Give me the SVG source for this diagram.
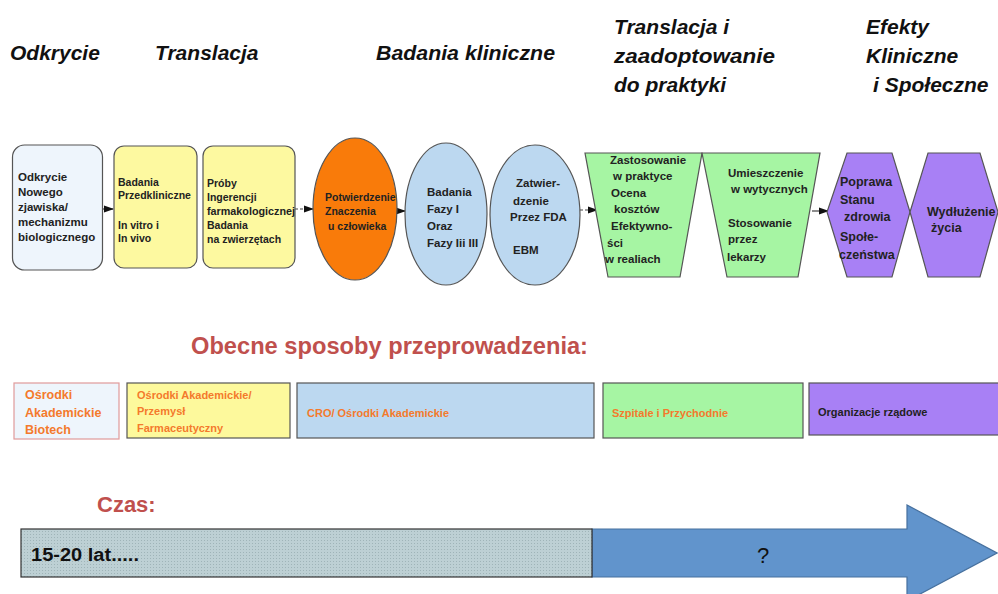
<svg xmlns="http://www.w3.org/2000/svg" width="998" height="594" viewBox="0 0 998 594">
<defs>
<style>
.hdr{font-family:"Liberation Sans",Arial,sans-serif;font-size:21px;font-weight:bold;font-style:italic;fill:#111}
.t{font-family:"Liberation Sans",Arial,sans-serif;fill:#222;font-weight:bold}
.s10{font-size:10.5px}
.s11{font-size:11.5px}
.s12{font-size:12px}
.s125{font-size:12.5px}
.org{font-family:"Liberation Sans",Arial,sans-serif;font-weight:bold;fill:#f47a2c;font-size:11px}
.node{stroke:#555;stroke-width:1.2}
.conn{stroke:#444;stroke-width:1.2;fill:none}
</style>
<marker id="ah" markerWidth="10" markerHeight="8" refX="9" refY="4" orient="auto" markerUnits="userSpaceOnUse">
<path d="M0,0.5 L10,4 L0,7.5 z" fill="#111"/>
</marker>
<pattern id="dots" width="3" height="3" patternUnits="userSpaceOnUse">
<rect width="3" height="3" fill="#bdd0d4"/>
<rect width="1" height="1" fill="#9fb4b8"/>
</pattern>
</defs>
<rect width="998" height="594" fill="#ffffff"/>

<g id="headers">
<text class="hdr" x="10" y="60">Odkrycie</text>
<text class="hdr" x="155" y="60">Translacja</text>
<text class="hdr" x="376" y="60" textLength="179" lengthAdjust="spacingAndGlyphs">Badania kliniczne</text>
<text class="hdr" x="614" y="34">Translacja i</text>
<text class="hdr" x="614" y="63" textLength="161" lengthAdjust="spacingAndGlyphs">zaadoptowanie</text>
<text class="hdr" x="614" y="92">do praktyki</text>
<text class="hdr" x="866" y="34">Efekty</text>
<text class="hdr" x="866" y="63">Kliniczne</text>
<text class="hdr" x="873" y="92">i Społeczne</text>
</g>

<g id="connectors">
<line class="conn" x1="103" y1="209" x2="113" y2="209" marker-end="url(#ah)"/>
<line class="conn" x1="295" y1="209" x2="313" y2="209" stroke-dasharray="3,2" marker-end="url(#ah)"/>
<line class="conn" x1="397" y1="211" x2="405" y2="211" marker-end="url(#ah)"/>
<line class="conn" x1="580" y1="210" x2="597" y2="210" stroke-dasharray="3,2" marker-end="url(#ah)"/>
<line class="conn" x1="812" y1="211" x2="828" y2="211" marker-end="url(#ah)"/>
</g>

<g id="n1">
<rect class="node" x="12.5" y="145" width="90" height="125" rx="12" fill="#eef5fc"/>
<text class="t s11" x="18" y="181">Odkrycie</text>
<text class="t s11" x="18" y="196">Nowego</text>
<text class="t s11" x="18" y="211">zjawiska/</text>
<text class="t s11" x="18" y="226">mechanizmu</text>
<text class="t s11" x="18" y="241">biologicznego</text>
</g>

<g id="n2">
<rect class="node" x="114" y="146" width="83" height="122" rx="10" fill="#fdf9a0"/>
<text class="t s10" x="118" y="185.5">Badania</text>
<text class="t s10" x="118" y="199">Przedkliniczne</text>
<text class="t s10" x="118" y="229">In vitro i</text>
<text class="t s10" x="118" y="242">In vivo</text>
</g>

<g id="n3">
<rect class="node" x="203" y="146" width="92" height="122" rx="10" fill="#fdf9a0"/>
<text class="t s10" x="207" y="187">Próby</text>
<text class="t s10" x="207" y="201">Ingerencji</text>
<text class="t s10" x="207" y="215" textLength="88" lengthAdjust="spacingAndGlyphs">farmakologicznej</text>
<text class="t s10" x="207" y="229">Badania</text>
<text class="t s10" x="207" y="243">na zwierzętach</text>
</g>

<g id="n4">
<ellipse class="node" cx="355" cy="209" rx="42" ry="71" fill="#f97b0a"/>
<text class="t s10" x="325" y="201">Potwierdzenie</text>
<text class="t s10" x="325" y="215">Znaczenia</text>
<text class="t s10" x="328" y="230">u człowieka</text>
</g>

<g id="n5">
<ellipse class="node" cx="446" cy="214" rx="41" ry="71" fill="#bcd8f0"/>
<text class="t s11" x="427" y="196">Badania</text>
<text class="t s11" x="427" y="213">Fazy I</text>
<text class="t s11" x="427" y="230">Oraz</text>
<text class="t s11" x="427" y="247">Fazy Iii III</text>
</g>

<g id="n6">
<ellipse class="node" cx="535" cy="215" rx="45" ry="70" fill="#bcd8f0"/>
<text class="t s11" x="516" y="187">Zatwier-</text>
<text class="t s11" x="513" y="205">dzenie</text>
<text class="t s11" x="510" y="221">Przez FDA</text>
<text class="t s11" x="513" y="254">EBM</text>
</g>

<g id="n7">
<polygon class="node" points="585,153 702,153 680,277 608,277" fill="#a6f5a3"/>
<text class="t s11" x="610" y="164">Zastosowanie</text>
<text class="t s11" x="613" y="180">w praktyce</text>
<text class="t s11" x="611" y="197">Ocena</text>
<text class="t s11" x="614" y="213">kosztów</text>
<text class="t s11" x="611" y="230">Efektywno-</text>
<text class="t s11" x="607" y="247">ści</text>
<text class="t s11" x="605" y="263">w realiach</text>
</g>

<g id="n8">
<polygon class="node" points="702,153 820,153 798,277 727,277" fill="#a6f5a3"/>
<text class="t s11" x="728" y="177">Umieszczenie</text>
<text class="t s11" x="731" y="193">w wytycznych</text>
<text class="t s11" x="728" y="227">Stosowanie</text>
<text class="t s11" x="728" y="243">przez</text>
<text class="t s11" x="727" y="261">lekarzy</text>
</g>

<g id="n9">
<polygon class="node" points="847,153 892,153 910,212 892,277 847,277 827,212" fill="#a880f5"/>
<text class="t s125" x="840" y="186">Poprawa</text>
<text class="t s125" x="840" y="204">Stanu</text>
<text class="t s125" x="844" y="221">zdrowia</text>
<text class="t s125" x="840" y="241">Społe-</text>
<text class="t s125" x="839" y="259">czeństwa</text>
</g>

<g id="n10">
<polygon class="node" points="928,153 980,153 998,212 980,277 928,277 910,212" fill="#a880f5"/>
<text class="t s125" x="927" y="216">Wydłużenie</text>
<text class="t s125" x="931" y="232">życia</text>
</g>

<text x="191" y="354" font-family="Liberation Sans, Arial, sans-serif" font-size="23" font-weight="bold" fill="#c0504d" textLength="397" lengthAdjust="spacingAndGlyphs">Obecne sposoby przeprowadzenia:</text>

<g id="r1">
<rect x="14" y="383" width="105" height="56" fill="#eef5fc" stroke="#e09a9a" stroke-width="1.2"/>
<text class="org" x="25" y="399" style="font-size:12.5px">Ośrodki</text>
<text class="org" x="25" y="417" style="font-size:12.5px">Akademickie</text>
<text class="org" x="25" y="434" style="font-size:12.5px">Biotech</text>
</g>
<g id="r2">
<rect class="node" x="127" y="383" width="163" height="55" fill="#fdf99c"/>
<text class="org" x="137" y="399">Ośrodki Akademickie/</text>
<text class="org" x="137" y="415">Przemysł</text>
<text class="org" x="137" y="432">Farmaceutyczny</text>
</g>
<g id="r3">
<rect class="node" x="297" y="383" width="297" height="55" fill="#bcd8f0"/>
<text class="org" x="307" y="417">CRO/ Ośrodki Akademickie</text>
</g>
<g id="r4">
<rect class="node" x="603" y="383" width="200" height="55" fill="#a6f5a3"/>
<text class="org" x="612" y="417">Szpitale i Przychodnie</text>
</g>
<g id="r5">
<rect class="node" x="809" y="383" width="195" height="52" fill="#a880f5"/>
<text class="org" x="818" y="416" style="fill:#222">Organizacje rządowe</text>
</g>

<text x="97" y="512" font-family="Liberation Sans, Arial, sans-serif" font-size="22" font-weight="bold" fill="#c0504d">Czas:</text>

<g id="timeline">
<polygon points="592,529 907,529 907,505 997,553 907,601 907,577 592,577" fill="#6194cc" stroke="#46709e" stroke-width="1.2"/>
<rect x="21" y="529" width="571" height="48" fill="url(#dots)" stroke="#333" stroke-width="1.2"/>
<text x="31" y="561" font-family="Liberation Sans, Arial, sans-serif" font-size="18" font-weight="bold" fill="#111" textLength="108" lengthAdjust="spacingAndGlyphs">15-20 lat.....</text>
<text x="757" y="563" font-family="Liberation Sans, Arial, sans-serif" font-size="22" fill="#111">?</text>
</g>
</svg>
